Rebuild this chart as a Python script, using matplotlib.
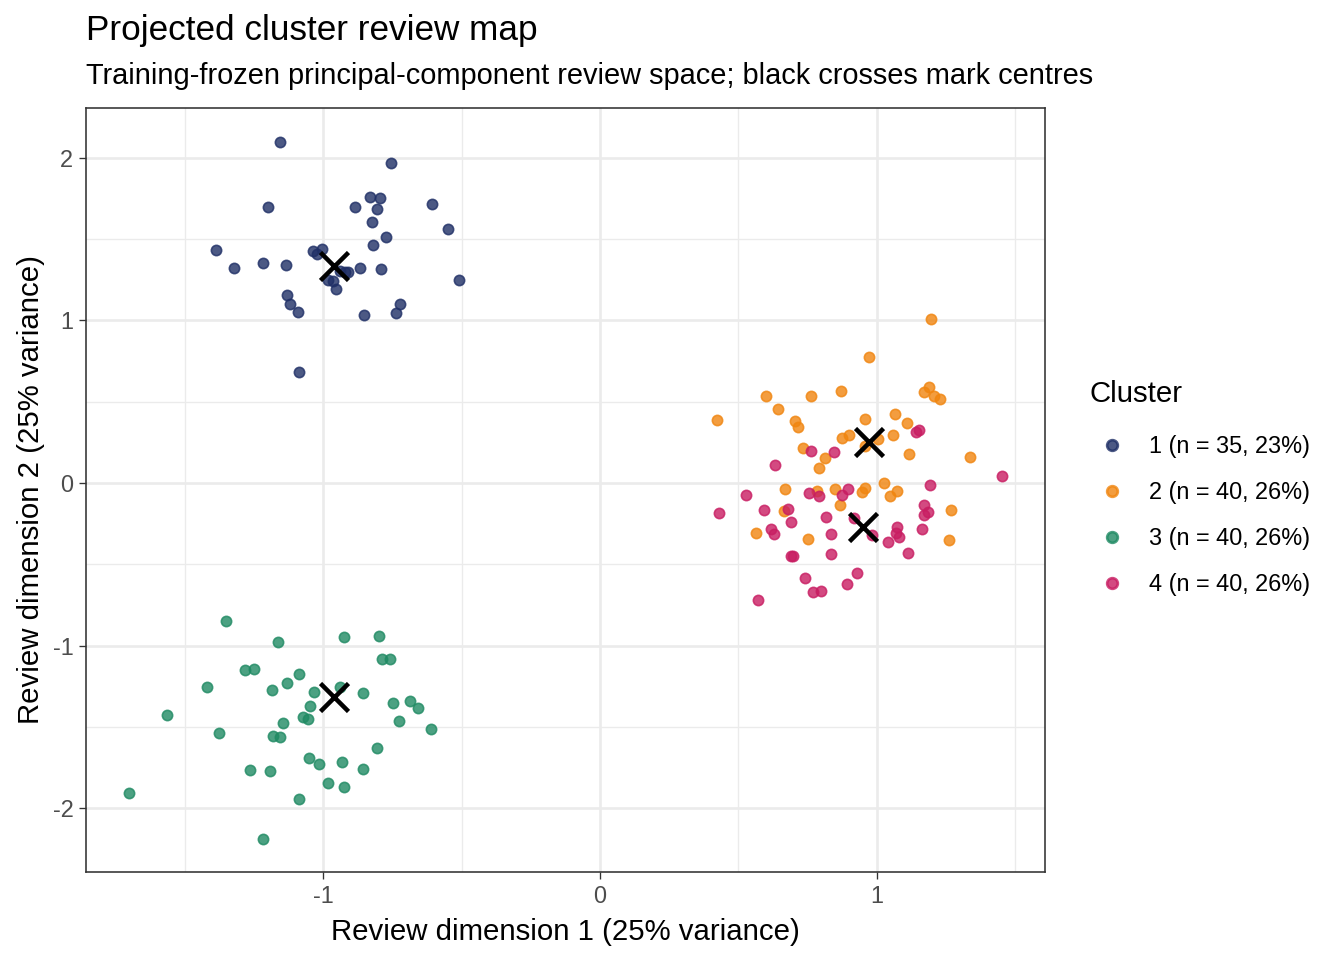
import matplotlib.pyplot as plt
import numpy as np
from matplotlib.lines import Line2D

plt.rcParams["font.family"] = ["Liberation Sans", "DejaVu Sans"]
plt.rcParams["axes.unicode_minus"] = False

# cluster 1 (navy)
c1_x = [-1.158, -0.757, -1.201, -0.884, -0.832, -0.795, -0.808, -0.825, -0.608, -0.550,
        -0.773, -0.822, -1.387, -1.324, -1.218, -1.136, -1.038, -1.006, -1.024, -0.910,
        -0.922, -0.867, -0.793, -0.511, -0.984, -0.964, -0.953, -1.131, -1.121, -1.091,
        -0.855, -0.723, -0.737, -1.087, -0.940]
c1_y = [2.098, 1.967, 1.695, 1.698, 1.756, 1.750, 1.682, 1.606, 1.717, 1.559,
        1.512, 1.465, 1.434, 1.321, 1.350, 1.342, 1.428, 1.436, 1.405, 1.299,
        1.297, 1.323, 1.317, 1.250, 1.246, 1.240, 1.194, 1.156, 1.102, 1.049,
        1.034, 1.102, 1.043, 0.682, 1.300]

# cluster 2 (orange)
c2_x = [1.196, 0.972, 0.600, 0.764, 0.872, 1.171, 1.188, 1.207, 1.229, 0.644,
        0.422, 0.706, 0.714, 0.958, 1.066, 1.110, 1.059, 0.873, 0.899, 0.957,
        1.004, 0.734, 0.813, 0.791, 1.116, 1.336, 0.667, 0.784, 0.849, 0.957,
        0.946, 1.026, 1.074, 1.048, 0.866, 0.666, 1.269, 0.565, 0.752, 1.260]
c2_y = [1.008, 0.776, 0.537, 0.537, 0.564, 0.557, 0.590, 0.535, 0.518, 0.453,
        0.389, 0.383, 0.346, 0.391, 0.422, 0.367, 0.295, 0.279, 0.295, 0.229,
        0.270, 0.217, 0.152, 0.094, 0.176, 0.162, -0.035, -0.047, -0.037, -0.031,
        -0.055, -0.002, -0.049, -0.078, -0.135, -0.170, -0.168, -0.309, -0.342, -0.348]

# cluster 3 (green)
c3_x = [-1.353, -1.165, -0.924, -0.798, -0.789, -0.760, -1.282, -1.250, -1.087, -1.132,
        -1.187, -1.421, -1.035, -0.941, -0.857, -1.567, -1.049, -1.072, -1.054, -0.749,
        -0.688, -0.659, -0.725, -0.611, -1.379, -1.145, -1.182, -1.158, -0.807, -1.051,
        -1.015, -0.934, -0.857, -1.266, -1.193, -0.984, -0.926, -1.089, -1.703, -1.218]
c3_y = [-0.848, -0.979, -0.948, -0.938, -1.080, -1.084, -1.147, -1.143, -1.176, -1.231,
        -1.274, -1.252, -1.285, -1.256, -1.291, -1.426, -1.373, -1.436, -1.451, -1.354,
        -1.340, -1.381, -1.465, -1.510, -1.539, -1.475, -1.557, -1.563, -1.629, -1.688,
        -1.729, -1.715, -1.760, -1.766, -1.772, -1.846, -1.870, -1.940, -1.903, -2.186]

# cluster 4 (pink)
c4_x = [1.453, 1.152, 1.141, 0.763, 0.845, 0.632, 1.194, 0.527, 0.755, 0.790,
        0.873, 0.895, 0.430, 0.594, 0.678, 0.690, 0.816, 0.916, 1.169, 1.169,
        1.187, 0.616, 0.628, 0.836, 0.982, 1.072, 1.069, 1.082, 1.041, 1.163,
        0.689, 0.697, 0.834, 1.113, 0.929, 0.742, 0.894, 0.769, 0.798, 0.572]
c4_y = [0.045, 0.326, 0.313, 0.199, 0.189, 0.111, -0.014, -0.074, -0.059, -0.078,
        -0.074, -0.037, -0.186, -0.166, -0.158, -0.242, -0.211, -0.217, -0.137, -0.197,
        -0.180, -0.283, -0.313, -0.316, -0.320, -0.270, -0.309, -0.330, -0.363, -0.285,
        -0.447, -0.447, -0.438, -0.428, -0.551, -0.586, -0.623, -0.670, -0.664, -0.719]

centre_x = [-0.962, 0.972, -0.962, 0.950]
centre_y = [1.336, 0.254, -1.313, -0.273]

labels = ["1 (n = 35, 23%)", "2 (n = 40, 26%)", "3 (n = 40, 26%)", "4 (n = 40, 26%)"]
colors = ["#1f2f66", "#f0850f", "#1f8a63", "#c81d62"]

fig = plt.figure(figsize=(7, 5), dpi=192)
ax = fig.add_axes([0.064, 0.0917, 0.7135, 0.7958])

xs = [c1_x, c2_x, c3_x, c4_x]
ys = [c1_y, c2_y, c3_y, c4_y]
for x, y, col in zip(xs, ys, colors):
    ax.scatter(x, y, s=15, color=col, alpha=0.8, linewidths=0.6, edgecolors=col, zorder=3)

ax.plot(centre_x, centre_y, linestyle="none", marker="x", markersize=10.5,
        markeredgewidth=1.7, color="black", zorder=4)

ax.set_xlim(-1.858, 1.608)
ax.set_ylim(-2.391, 2.305)
ax.set_xticks([-1, 0, 1])
ax.set_yticks([-2, -1, 0, 1, 2])
ax.set_xticks([-1.5, -0.5, 0.5, 1.5], minor=True)
ax.set_yticks([-1.5, -0.5, 0.5, 1.5], minor=True)
ax.grid(True, which="major", color="#ebebeb", linewidth=1.0, zorder=0)
ax.grid(True, which="minor", color="#ebebeb", linewidth=0.5, zorder=0)
ax.set_axisbelow(True)
ax.tick_params(which="major", length=2.75, width=0.5, color="#333333",
               labelsize=8.8, labelcolor="#4d4d4d", pad=2)
ax.tick_params(which="minor", length=0)
for sp in ax.spines.values():
    sp.set_color("#333333")
    sp.set_linewidth(0.6)

ax.set_xlabel("Review dimension 1 (25% variance)", fontsize=11, labelpad=4)
ax.set_ylabel("Review dimension 2 (25% variance)", fontsize=11, labelpad=2.8)

fig.text(0.064, 0.958, "Projected cluster review map", fontsize=13.2, va="baseline", ha="left")
fig.text(0.064, 0.912, "Training-frozen principal-component review space; black crosses mark centres",
         fontsize=10.9, va="baseline", ha="left")

handles = [Line2D([], [], linestyle="none", marker="o", markersize=4.0, color=c, alpha=0.8)
           for c in colors]
leg = fig.legend(handles, labels, title="Cluster", loc="upper left",
                 bbox_to_anchor=(0.7946, 0.626), frameon=False, fontsize=8.8,
                 title_fontsize=11, labelspacing=0.98, handletextpad=0.6,
                 handlelength=1.96, alignment="left")
# a bit more room between the legend title and the keys
leg._legend_box.sep = 10.0

fig.savefig("out.png", dpi=192)
